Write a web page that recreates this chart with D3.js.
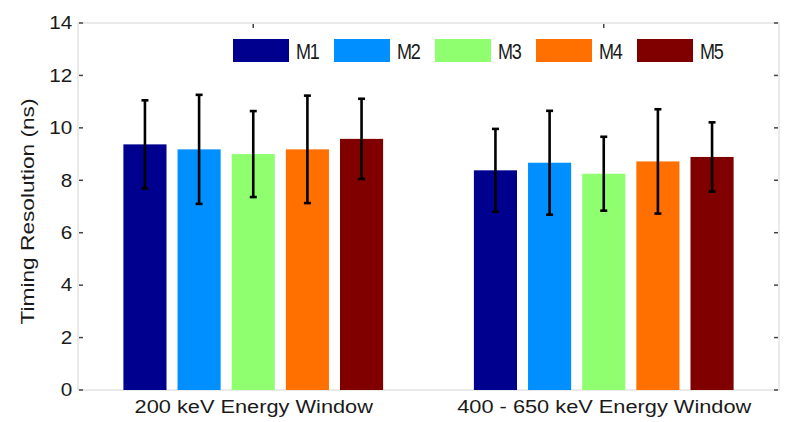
<!DOCTYPE html>
<html><head><meta charset="utf-8">
<script src="https://cdn.jsdelivr.net/npm/d3@7/dist/d3.min.js"></script>
<style>body{margin:0;background:#fff;}text{font-family:"Liberation Sans",Arial,sans-serif;fill:#1a1a1a;}</style>
</head><body><svg id="c" width="787" height="422"></svg>
<script>
const groups = ["200 keV Energy Window", "400 - 650 keV Energy Window"];
const series = ["M1", "M2", "M3", "M4", "M5"];
const colors = ["#00008f", "#008fff", "#8fff6f", "#ff7000", "#800000"];
const values = [
  [9.37, 9.18, 9.00, 9.18, 9.58],
  [8.38, 8.67, 8.25, 8.72, 8.89]
];
const errors = [
  [1.68, 2.08, 1.64, 2.05, 1.53],
  [1.58, 1.98, 1.41, 1.99, 1.32]
];
const yTicks = [0, 2, 4, 6, 8, 10, 12, 14];

const svg = d3.select("#c");
const L = 78, R = 779, T = 23, B = 390;
const x = d3.scaleLinear().domain([0.5, 2.5]).range([L, R]);
const y = d3.scaleLinear().domain([0, 14]).range([B, T]);
const step = 0.1545, bw = 0.123;

// frame
svg.append("rect").attr("x", L).attr("y", T).attr("width", R - L).attr("height", B - T)
  .attr("fill", "none").attr("stroke", "#dcdcdc").attr("stroke-width", 1.2);

// bars
groups.forEach((g, gi) => {
  series.forEach((s, si) => {
    const cx = gi + 1 + (si - 2) * step;
    const v = values[gi][si];
    svg.append("rect").attr("x", x(cx - bw / 2)).attr("y", y(v))
      .attr("width", x(cx + bw / 2) - x(cx - bw / 2)).attr("height", y(0) - y(v))
      .attr("fill", colors[si]);
  });
});
// error bars
groups.forEach((g, gi) => {
  series.forEach((s, si) => {
    const cx = x(gi + 1 + (si - 2) * step);
    const v = values[gi][si], e = errors[gi][si];
    const gE = svg.append("g").attr("stroke", "#000").attr("stroke-width", 2.6);
    gE.append("line").attr("x1", cx).attr("x2", cx).attr("y1", y(v - e)).attr("y2", y(v + e));
    gE.append("line").attr("x1", cx - 3.5).attr("x2", cx + 3.5).attr("y1", y(v - e)).attr("y2", y(v - e));
    gE.append("line").attr("x1", cx - 3.5).attr("x2", cx + 3.5).attr("y1", y(v + e)).attr("y2", y(v + e));
  });
});

// y axis
const ya = svg.append("g").attr("transform", `translate(${L},0)`)
  .call(d3.axisLeft(y).tickValues(yTicks).tickSize(0).tickPadding(5).tickFormat(d3.format("d")));
ya.select(".domain").remove();
ya.selectAll("text").style("font-size", "18px").attr("fill", "#1a1a1a").attr("transform", "scale(1.15,1)");
// inward tick marks left & right
yTicks.forEach(t => {
  svg.append("line").attr("x1", L + 1).attr("x2", L + 5).attr("y1", y(t)).attr("y2", y(t))
    .attr("stroke", "#444").attr("stroke-width", 1.5);
  svg.append("line").attr("x1", R - 5).attr("x2", R - 1).attr("y1", y(t)).attr("y2", y(t))
    .attr("stroke", "#444").attr("stroke-width", 1.5);
});
// x axis
const xa = svg.append("g").attr("transform", `translate(0,${B})`)
  .call(d3.axisBottom(x).tickValues([1, 2]).tickSize(0).tickPadding(8).tickFormat(d => groups[d - 1]));
xa.select(".domain").remove();
xa.selectAll("text").style("font-size", "18px").attr("fill", "#1a1a1a")
  .attr("dy", null).attr("y", 23).attr("transform", "scale(1.21,1)");
[1, 2].forEach(t => {
  svg.append("line").attr("x1", x(t)).attr("x2", x(t)).attr("y1", T + 1).attr("y2", T + 5)
    .attr("stroke", "#444").attr("stroke-width", 1.5);
});

// y label
svg.append("text").attr("transform", `translate(34,${(T + B) / 2 + 5}) rotate(-90) scale(1.26,1)`)
  .attr("text-anchor", "middle").style("font-size", "18px").text("Timing Resolution (ns)");

// legend
const lg = svg.append("g");
series.forEach((s, i) => {
  const lx = 233 + i * 101;
  lg.append("rect").attr("x", lx).attr("y", 39).attr("width", 56).attr("height", 23).attr("fill", colors[i]);
  lg.append("text").attr("transform", `translate(${lx + 63},59) scale(0.82,1)`)
    .style("font-size", "22px").style("letter-spacing", "-1.5px").text(s);
});
</script></body></html>
